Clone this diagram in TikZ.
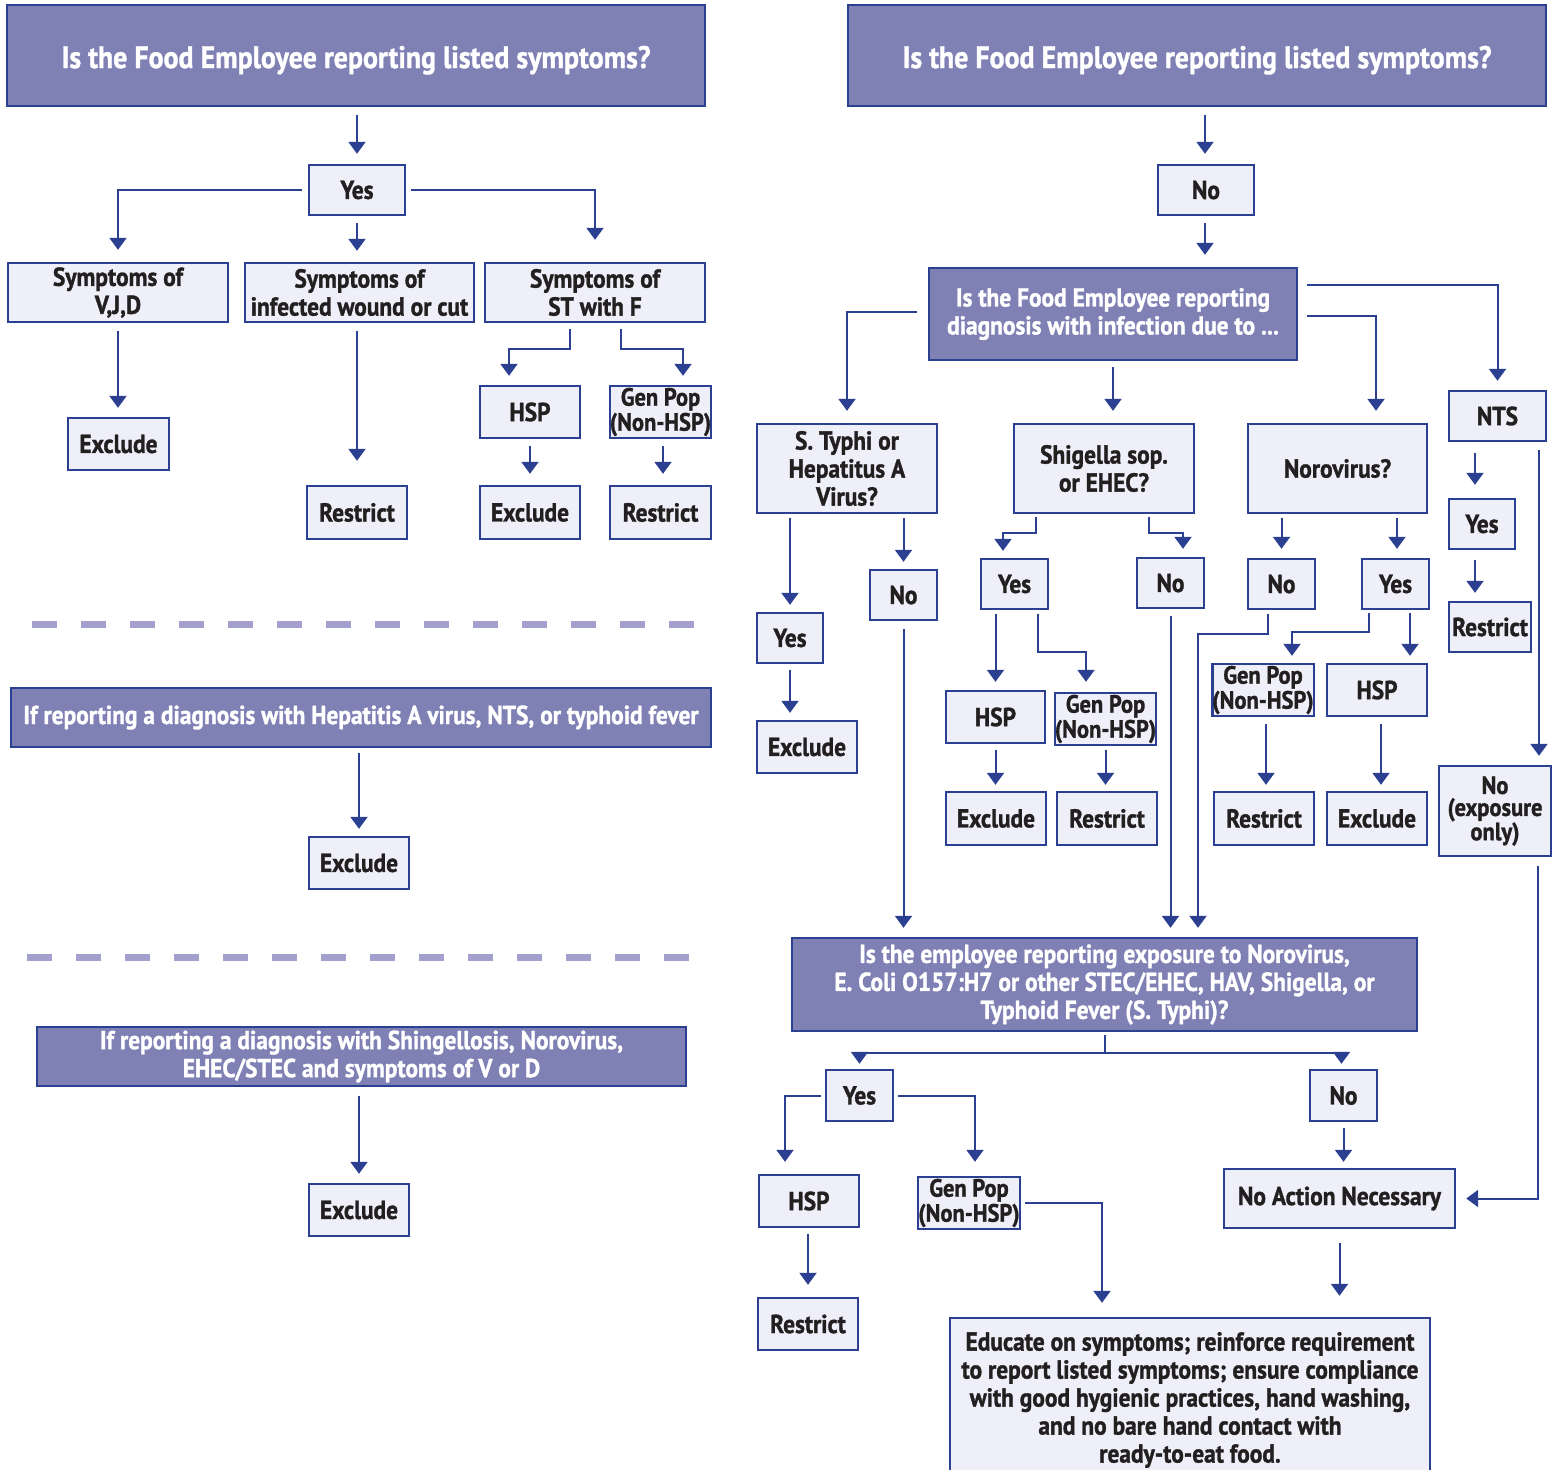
\documentclass[tikz,border=0pt]{standalone}
\usepackage{fontspec}
\setmainfont{PT Sans}[FakeStretch=0.9, BoldFeatures={FakeBold=1.2}]
\usetikzlibrary{arrows.meta}
\definecolor{lc}{HTML}{2B4091}
\definecolor{lf}{HTML}{EEEFF8}
\definecolor{pf}{HTML}{7F81B5}
\definecolor{tc}{HTML}{231F20}
\definecolor{dc}{HTML}{A3A0CE}
\begin{document}
\begin{tikzpicture}[x=1pt,y=-1pt,
  sz/.style 2 args={minimum width=#1pt, minimum height=#2pt},
  lbox/.style={draw=lc, line width=2.4pt, fill=lf, text=tc, inner sep=0pt, align=center,
    font=\bfseries\fontsize{26}{28}\selectfont},
  pbox/.style={draw=lc, line width=2.4pt, fill=pf, text=white, inner sep=0pt, align=center,
    font=\bfseries\fontsize{26}{28}\selectfont},
  ttl/.style={pbox, font=\bfseries\fontsize{31}{34}\selectfont, text height=25pt, text depth=0pt},
  gp/.style={lbox, font=\bfseries\fontsize{25}{25}\selectfont},
  conn/.style={draw=lc, line width=2pt},
  arr/.style={conn, -{Triangle[length=12pt,width=17pt]}},
  sep/.style={draw=dc, line width=7pt, dash pattern=on 25pt off 24pt}]
\useasboundingbox[fill=white] (0,0) rectangle (1559,1470);

% ---------------- left column ----------------
\node[ttl, sz={698}{101}] (t1) at (356,55.5) {Is the Food Employee reporting listed symptoms?};
\node[lbox, sz={96}{50}] (yesL) at (357,190) {Yes};
\node[lbox, sz={220}{59}] (vjd) at (118,292.5) {Symptoms of\\V,J,D};
\node[lbox, sz={229}{59}] (wound) at (359.5,292.5) {Symptoms of\\infected wound or cut};
\node[lbox, sz={220}{59}] (stf) at (595,292.5) {Symptoms of\\ST with F};
\node[lbox, sz={101}{52}] (excL1) at (118.5,444) {Exclude};
\node[lbox, sz={100}{53}] (resL1) at (357,512.5) {Restrict};
\node[lbox, sz={100}{52}] (hspL) at (530,412) {HSP};
\node[gp, sz={101}{52}] (gpL) at (660.5,412) {Gen Pop\\(Non-HSP)};
\node[lbox, sz={100}{53}] (excL2) at (530,512.5) {Exclude};
\node[lbox, sz={101}{53}] (resL2) at (660.5,512.5) {Restrict};

\coordinate (d1a) at (32,624); \coordinate (d1b) at (697,624);
\draw[sep] (d1a) -- (d1b);
\node[pbox, sz={700}{59}] (hep) at (361,717.5) {If reporting a diagnosis with Hepatitis A virus, NTS, or typhoid fever};
\node[lbox, sz={100}{52}] (excL3) at (359,863) {Exclude};

\coordinate (d2a) at (27,957); \coordinate (d2b) at (695,957);
\draw[sep] (d2a) -- (d2b);
\node[pbox, sz={649}{59}] (shin) at (361.5,1056.5) {If reporting a diagnosis with Shingellosis, Norovirus,\\EHEC/STEC and symptoms of V or D};
\node[lbox, sz={100}{52}] (excL4) at (359,1210) {Exclude};

\draw[arr, shorten <=8pt, shorten >=10pt] (yesL.north |- t1.south) -- (yesL.north);
\draw[arr, shorten <=6pt, shorten >=12pt] (yesL.west) -| (vjd.north);
\draw[arr, shorten <=7pt, shorten >=11pt] (yesL.south) -- (yesL.south |- wound.north);
\draw[arr, shorten <=5pt, shorten >=22pt] (yesL.east) -| (stf.north);
\draw[arr, shorten <=8pt, shorten >=9pt] (vjd.south) -- (vjd.south |- excL1.north);
\draw[arr, shorten <=8pt, shorten >=24pt] (resL1.north |- wound.south) -- (resL1.north);
\draw[arr, shorten <=6pt, shorten >=9pt] ([xshift=-25pt]stf.south) -- ++(0,26) -| ([xshift=-21pt]hspL.north);
\draw[arr, shorten <=6pt, shorten >=9pt] ([xshift=26pt]stf.south) -- ++(0,26) -| ([xshift=22.5pt]gpL.north);
\draw[arr, shorten <=7pt, shorten >=11pt] (hspL.south) -- (hspL.south |- excL2.north);
\draw[arr, shorten <=7pt, shorten >=11pt] ([xshift=2.5pt]gpL.south) -- ([xshift=2.5pt]gpL.south |- resL2.north);
\draw[arr, shorten <=5pt, shorten >=7pt] (excL3.north |- hep.south) -- (excL3.north);
\draw[arr, shorten <=9pt, shorten >=9pt] (excL4.north |- shin.south) -- (excL4.north);

% ---------------- right column ----------------
\node[ttl, sz={698}{101}] (t2) at (1197,55.5) {Is the Food Employee reporting listed symptoms?};
\node[lbox, sz={96}{50}] (noR) at (1206,190) {No};
\node[pbox, sz={368}{92}] (diag) at (1113,314) {Is the Food Employee reporting\\diagnosis with infection due to ...};
\node[lbox, sz={180}{89}] (sty) at (847,468.5) {S. Typhi or\\Hepatitus A\\Virus?};
\node[lbox, sz={180}{89}] (shig) at (1104,468.5) {Shigella sop.\\or EHEC?};
\node[lbox, sz={179}{89}] (noro) at (1337.5,468.5) {Norovirus?};
\node[lbox, sz={97}{50}] (nts) at (1497.5,416) {NTS};

\node[lbox, sz={66}{50}] (styYes) at (790,638) {Yes};
\node[lbox, sz={67}{50}] (styNo) at (903.5,595) {No};
\node[lbox, sz={100}{52}] (excR1) at (807,747) {Exclude};

\node[lbox, sz={67}{50}] (shYes) at (1014.5,584) {Yes};
\node[lbox, sz={67}{50}] (shNo) at (1170.5,583) {No};
\node[lbox, sz={99}{52}] (hspR1) at (995.5,717) {HSP};
\node[gp, sz={99}{52}] (gpR1) at (1105.5,719) {Gen Pop\\(Non-HSP)};
\node[lbox, sz={100}{53}] (excR2) at (996,818.5) {Exclude};
\node[lbox, sz={100}{53}] (resR1) at (1107,818.5) {Restrict};

\node[lbox, sz={67}{50}] (noNo) at (1281.5,584) {No};
\node[lbox, sz={67}{50}] (noYes) at (1395.5,584) {Yes};
\node[gp, sz={100}{52}] (gpR2) at (1263,690) {Gen Pop\\(Non-HSP)};
\node[lbox, sz={100}{52}] (hspR2) at (1377,690) {HSP};
\node[lbox, sz={100}{53}] (resR2) at (1264,818.5) {Restrict};
\node[lbox, sz={100}{53}] (excR3) at (1377,818.5) {Exclude};

\node[lbox, sz={66}{50}] (ntsYes) at (1482,524) {Yes};
\node[lbox, sz={82}{50}] (ntsRes) at (1490,627) {Restrict};
\node[lbox, sz={112}{90}, font=\bfseries\fontsize{25}{22}\selectfont] (ntsNo) at (1495,811) {No\\(exposure\\only)};

\node[pbox, sz={625}{93}] (expo) at (1104.5,984.5) {Is the employee reporting exposure to Norovirus,\\E. Coli O157:H7 or other STEC/EHEC, HAV, Shigella, or\\Typhoid Fever (S. Typhi)?};
\node[lbox, sz={67}{51}] (exYes) at (859.5,1095.5) {Yes};
\node[lbox, sz={67}{51}] (exNo) at (1343.5,1095.5) {No};
\node[lbox, sz={100}{52}] (hspR3) at (809,1201) {HSP};
\node[gp, sz={102}{52}] (gpR3) at (969,1203) {Gen Pop\\(Non-HSP)};
\node[lbox, sz={100}{52}] (resR3) at (808,1324) {Restrict};
\node[lbox, sz={231}{59}] (noAct) at (1339.5,1198.5) {No Action Necessary};
\node[lbox, sz={480}{164}] (edu) at (1190,1400) {Educate on symptoms; reinforce requirement\\to report listed symptoms; ensure compliance\\with good hygienic practices, hand washing,\\and no bare hand contact with\\ready-to-eat food.};

\draw[arr, shorten <=8pt, shorten >=10pt] ([xshift=-1pt]noR.north |- t2.south) -- ([xshift=-1pt]noR.north);
\draw[arr, shorten <=7pt, shorten >=12pt] ([xshift=-1pt]noR.south) -- ([xshift=-1pt]noR.south |- diag.north);
\draw[arr, shorten <=11pt, shorten >=12pt] ([yshift=2pt]diag.west) -| (sty.north);
\draw[arr, shorten <=6pt, shorten >=12pt] (diag.south) -- (diag.south |- shig.north);
\draw[arr, shorten <=9pt, shorten >=12pt] ([yshift=-2pt]diag.east) -| ([xshift=38.5pt]noro.north);
\draw[arr, shorten <=9pt, shorten >=9pt] ([yshift=29pt]diag.east) -| (nts.north);

\draw[arr, shorten <=4pt, shorten >=7pt] (styYes.north |- sty.south) -- (styYes.north);
\draw[arr, shorten <=4pt, shorten >=7pt] (styNo.north |- sty.south) -- (styNo.north);
\draw[arr, shorten <=6pt, shorten >=7pt] (styYes.south) -- (styYes.south |- excR1.north);
\draw[arr, shorten <=8pt, shorten >=9pt] (styNo.south) -- (styNo.south |- expo.north);

\draw[arr, shorten <=3pt, shorten >=7pt] ([xshift=-68pt]shig.south) -- ++(0,19) -| ([xshift=-11.5pt]shYes.north);
\draw[arr, shorten <=3pt, shorten >=8pt] ([xshift=45pt]shig.south) -- ++(0,19) -| ([xshift=12.5pt]shNo.north);
\draw[arr, shorten <=4pt, shorten >=8pt] (hspR1.north |- shYes.south) -- (hspR1.north);
\draw[arr, shorten <=4pt, shorten >=10pt] ([xshift=23.5pt]shYes.south) -- ++(0,42) -| ([xshift=-19.5pt]gpR1.north);
\draw[arr, shorten <=6pt, shorten >=6pt] (hspR1.south) -- (hspR1.south |- excR2.north);
\draw[arr, shorten <=4pt, shorten >=6pt] (gpR1.south) -- (gpR1.south |- resR1.north);
\draw[arr, shorten <=7pt, shorten >=9pt] (shNo.south) -- (shNo.south |- expo.north);

\draw[arr, shorten <=4pt, shorten >=9pt] (noNo.north |- noro.south) -- (noNo.north);
\draw[arr, shorten <=4pt, shorten >=9pt] ([xshift=1.5pt]noYes.north |- noro.south) -- ([xshift=1.5pt]noYes.north);
\draw[arr, shorten <=4pt, shorten >=9pt] ([xshift=-13.5pt]noNo.south) -- ++(0,24) -| ([xshift=93.5pt]expo.north);
\draw[arr, shorten <=3pt, shorten >=7pt] ([xshift=-26.5pt]noYes.south) -- ++(0,22) -| ([xshift=29pt]gpR2.north);
\draw[arr, shorten <=3pt, shorten >=7pt] ([xshift=14.5pt]noYes.south) -- ([xshift=14.5pt]noYes.south |- hspR2.north);
\draw[arr, shorten <=7pt, shorten >=6pt] ([xshift=3pt]gpR2.south) -- ([xshift=3pt]gpR2.south |- resR2.north);
\draw[arr, shorten <=7pt, shorten >=6pt] ([xshift=4pt]hspR2.south) -- ([xshift=4pt]hspR2.south |- excR3.north);

\draw[arr, shorten <=11pt, shorten >=13pt] ([xshift=-7pt]ntsYes.north |- nts.south) -- ([xshift=-7pt]ntsYes.north);
\draw[arr, shorten <=10pt, shorten >=8pt] ([xshift=-7pt]ntsYes.south) -- ([xshift=-7pt]ntsYes.south |- ntsRes.north);
\draw[arr, shorten <=8pt, shorten >=9pt] ([xshift=41.5pt]nts.south) -- ([xshift=41.5pt]nts.south |- ntsNo.north);
\draw[arr, shorten <=9pt, shorten >=10pt] ([xshift=43pt]ntsNo.south) |- (noAct.east);

\draw[arr, shorten <=3pt, shorten >=5pt] (expo.south) -- ++(0,21) -| (exYes.north);
\draw[arr, shorten <=3pt, shorten >=5pt] (expo.south) -- ++(0,21) -| ([xshift=-2pt]exNo.north);
\draw[arr, shorten <=4pt, shorten >=12pt] (exYes.west) -| ([xshift=-24pt]hspR3.north);
\draw[arr, shorten <=4pt, shorten >=14pt] (exYes.east) -| ([xshift=6pt]gpR3.north);
\draw[arr, shorten <=6pt, shorten >=12pt] ([xshift=-1pt]hspR3.south) -- ([xshift=-1pt]hspR3.south |- resR3.north);
\draw[arr, shorten <=4pt, shorten >=14pt] (gpR3.east) -| ([xshift=-88pt]edu.north);
\draw[arr, shorten <=6pt, shorten >=6pt] (exNo.south) -- (exNo.south |- noAct.north);
\draw[arr, shorten <=14pt, shorten >=21pt] (noAct.south) -- (noAct.south |- edu.north);
\end{tikzpicture}
\end{document}
